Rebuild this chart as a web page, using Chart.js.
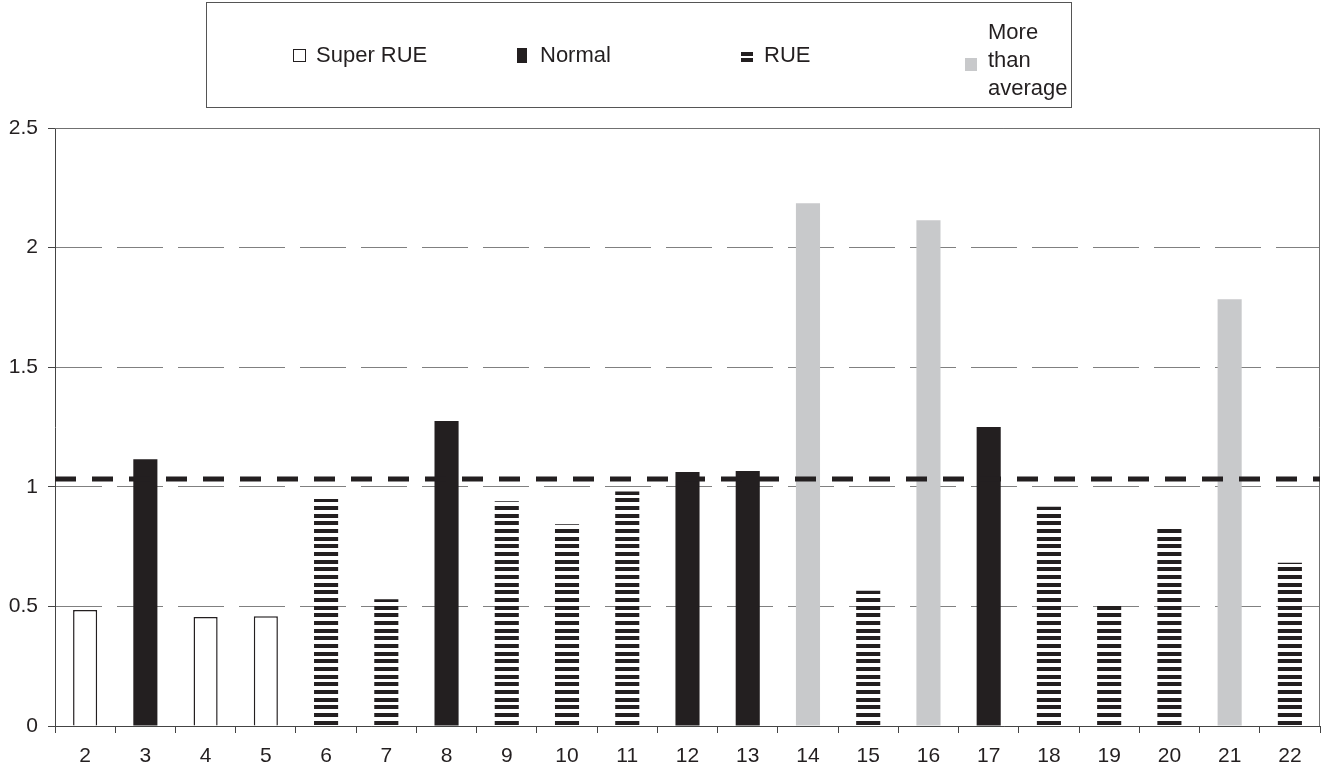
<!DOCTYPE html>
<html>
<head>
<meta charset="utf-8">
<script src="https://cdn.jsdelivr.net/npm/chart.js@4.4.1/dist/chart.umd.min.js"></script>
<style>
  body { margin: 0; background: #fff; }
  #wrap { position: relative; width: 1325px; height: 771px; font-family: "Liberation Sans", Arial, sans-serif; color: #231f20; }
  #chart { position: absolute; left: 0; top: 0; }
  #legend { position: absolute; left: 206px; top: 2px; width: 866px; height: 106px; border: 1px solid #555; box-sizing: border-box; }
  .item { position: absolute; font-size: 22px; line-height: 28px; }
  .icon { position: absolute; box-sizing: border-box; }
</style>
</head>
<body>
<div id="wrap">
  <canvas id="chart" width="1325" height="771"></canvas>
  <div id="legend"></div>
</div>
<script>
const categories = ["2", "3", "4", "5", "6", "7", "8", "9", "10", "11", "12",
  "13", "14", "15", "16", "17", "18", "19", "20", "21", "22"]
const ratios = [0.485, 1.115, 0.456, 0.459, 0.949, 0.53, 1.275, 0.94, 0.843, 0.98, 1.062,
  1.066, 2.185, 0.565, 2.114, 1.25, 0.917, 0.518, 0.84, 1.784, 0.683]
const groups = ["super", "normal", "super", "super", "rue", "rue", "normal", "rue", "rue", "rue", "normal",
  "normal", "more", "rue", "more", "normal", "rue", "rue", "rue", "more", "rue"]
const averageRatio = 1.033
const yTicks = [0, 0.5, 1, 1.5, 2, 2.5]
const yTickLabels = ["0", "0.5", "1", "1.5", "2", "2.5"]
const groupKeys = ["super", "normal", "rue", "more"]
const groupNames = ["Super RUE", "Normal", "RUE", "More than average"]

const ink = "#231f20"
const grey = "#c8c9cb"

// horizontal stripes for the RUE bars
function stripePattern() {
  const c = document.createElement("canvas")
  c.width = 8
  c.height = 23
  const g = c.getContext("2d")
  g.fillStyle = ink
  ;[0, 8, 15].forEach(y => g.fillRect(0, y, 8, 4))
  return g.createPattern(c, "repeat")
}
const stripes = stripePattern()

const fills = { super: "#ffffff", normal: ink, rue: stripes, more: grey }

// legend, built from the group names
const legendEl = document.getElementById("legend")
const legendX = [86, 310, 534, 758]
groupKeys.forEach((k, i) => {
  const icon = document.createElement("div")
  icon.className = "icon"
  const text = document.createElement("div")
  text.className = "item"
  text.textContent = groupNames[i]
  text.style.left = (legendX[i] + 23) + "px"
  if (k === "more") {
    text.style.top = "15px"
    text.style.width = "86px"
  } else {
    text.style.top = "38px"
  }
  let top = k === "more" ? 55 : 46
  icon.style.left = legendX[i] + "px"
  if (k === "super") {
    Object.assign(icon.style, { width: "13px", height: "13px", border: "1.5px solid " + ink, top: top + "px" })
  } else if (k === "normal") {
    Object.assign(icon.style, { width: "10px", height: "15px", background: ink, top: (top - 1) + "px" })
  } else if (k === "rue") {
    Object.assign(icon.style, { width: "12px", height: "10px", top: (top + 3) + "px",
      background: "linear-gradient(" + ink + " 0 4px, #fff 4px 6px, " + ink + " 6px 10px)" })
  } else {
    Object.assign(icon.style, { width: "12px", height: "13px", background: grey, top: top + "px" })
  }
  legendEl.appendChild(icon)
  legendEl.appendChild(text)
})

const plotFrame = {
  id: "plotFrame",
  beforeDatasetsDraw(chart) {
    const { ctx, chartArea: a } = chart
    ctx.save()
    ctx.strokeStyle = "#707070"
    ctx.lineWidth = 1
    ctx.beginPath()
    ctx.moveTo(a.left, a.top + 0.5)
    ctx.lineTo(a.right - 0.5, a.top + 0.5)
    ctx.lineTo(a.right - 0.5, a.bottom)
    ctx.stroke()
    ctx.restore()
  }
}

Chart.defaults.font.family = "'Liberation Sans', Arial, sans-serif"
Chart.defaults.color = ink

new Chart(document.getElementById("chart"), {
  type: "bar",
  data: {
    labels: categories,
    datasets: [{
      type: "line",
      label: "Average",
      xAxisID: "xAvg",
      data: [{ x: 0, y: averageRatio }, { x: 1, y: averageRatio }],
      borderColor: ink,
      borderWidth: 5,
      borderDash: [21, 16],
      pointRadius: 0,
      clip: false,
      order: 0
    }, {
      label: "RUE",
      xAxisID: "x",
      data: ratios,
      backgroundColor: ctx => fills[groups[ctx.dataIndex]],
      borderColor: ink,
      borderWidth: ctx => groups[ctx.dataIndex] === "super" ? 1.5 : 0,
      grouped: false,
      categoryPercentage: 1,
      barPercentage: 0.4,
      order: 1
    }]
  },
  options: {
    responsive: false,
    animation: false,
    devicePixelRatio: 1,
    layout: { padding: { top: 128, right: 5, left: 0, bottom: 0 } },
    plugins: { legend: { display: false }, tooltip: { enabled: false } },
    scales: {
      x: {
        type: "category",
        grid: { drawOnChartArea: false, drawTicks: true, tickLength: 7, tickColor: "#444" },
        border: { color: "#444", width: 1 },
        ticks: { font: { size: 21 }, padding: 11, maxRotation: 0, autoSkip: false },
        afterFit: s => { s.height = 45 }
      },
      xAvg: { type: "linear", min: 0, max: 1, offset: false, display: false,
        grid: { offset: false } },
      y: {
        min: 0,
        max: 2.5,
        afterBuildTicks: s => { s.ticks = yTicks.map(v => ({ value: v })) },
        grid: { color: "#808080", lineWidth: 1, tickLength: 7, tickColor: "#444" },
        border: { color: "#444", width: 1, dash: [46, 15] },
        ticks: { font: { size: 21 }, padding: 10, callback: (v, i) => yTickLabels[i] },
        afterFit: s => { s.width = 55 }
      }
    }
  },
  plugins: [plotFrame]
})
</script>
</body>
</html>
